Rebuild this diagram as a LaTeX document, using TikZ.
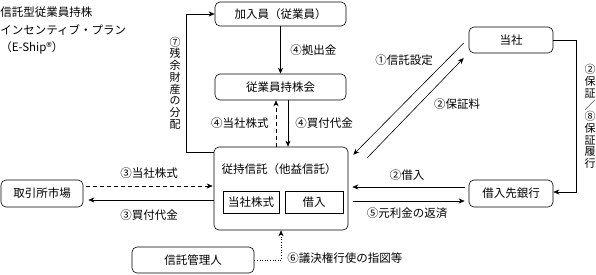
\documentclass[tikz,border=0pt]{standalone}
\usepackage{fontspec}
\setmainfont{Noto Sans CJK JP}
\usepackage{tikz}
\usetikzlibrary{arrows.meta,calc}

\begin{document}
\begin{tikzpicture}[x=1pt, y=-1pt, >={Stealth[length=6pt,width=5pt]}, line width=0.6pt,
    box/.style={draw, rounded corners=5pt, inner sep=0pt, font=\fontsize{11.5}{13}\selectfont},
    inbox/.style={draw, inner sep=0pt, minimum height=22, font=\fontsize{11.5}{13}\selectfont},
    lbl/.style={inner sep=0pt, font=\fontsize{11.5}{13}\selectfont},
    tate/.style={inner sep=0pt, align=center, font=\fontsize{11}{11.7}\selectfont}]
    \useasboundingbox (0,0) rectangle (596,274);

    % Title
    \node[lbl, anchor=west] (title1) at (0,12) {信託型従業員持株};
    \node[lbl, anchor=west] (title2) at (0,30) {インセンティブ・プラン};
    \node[lbl, anchor=west] (title3) at (0,48) {（E-Ship®）};

    % Boxes
    \node[box, minimum width=131, minimum height=24] (member) at (280.5,14) {加入員（従業員）};
    \node[box, minimum width=131, minimum height=26] (kumiai) at (280.5,87) {従業員持株会};
    \node[box, minimum width=84, minimum height=26] (company) at (511,40) {当社};
    \node[box, minimum width=82, minimum height=27] (market) at (42,193.5) {取引所市場};
    \node[box, minimum width=84, minimum height=27] (bank) at (511,193.5) {借入先銀行};
    \node[box, minimum width=122, minimum height=26] (admin) at (193,260) {信託管理人};

    % Trust with its two parts
    \node[box, minimum width=134, minimum height=83] (trust) at (281,188.5) {};
    \node[lbl] (trustname) at (279,169) {従持信託（他益信託）};
    \node[inbox, minimum width=56] (stock) at (251,202) {当社株式};
    \node[inbox, minimum width=58] (loan) at (314,202) {借入};

    % Members and association
    \draw[->] (member) -- (kumiai);
    \node[lbl, anchor=west] (lblcontrib) at (290,50) {④拠出金};
    \draw[->, dash pattern=on 4pt off 3pt] ([xshift=-5pt]trust.north) -- ([xshift=-4.5pt]kumiai.south);
    \draw[->] ([xshift=7.5pt]kumiai.south) -- ([xshift=7pt]trust.north);
    \node[lbl, anchor=east] (lblshares) at (269,123) {④当社株式};
    \node[lbl, anchor=west] (lblpay) at (295,123) {④買付代金};

    % Residual assets
    \draw[->] ([yshift=-6pt]trust.north west) -- ++(-27,0) |- (member.west);
    \node[tate] (lblresidual) at (175,83) {⑦\\残\\余\\財\\産\\の\\分\\配};

    % Market
    \draw[->, dash pattern=on 4pt off 3pt] ([yshift=7.5pt,xshift=3pt]market.east) -- ([yshift=2.5pt,xshift=-1pt]trust.west);
    \draw[->] ([yshift=-11.5pt]trust.west) -- ([yshift=-6.5pt,xshift=5pt]market.east);
    \node[lbl] (lblmktshares) at (149,173) {③当社株式};
    \node[lbl] (lblmktpay) at (149,215) {③買付代金};

    % Bank
    \draw[->] ([yshift=6.5pt,xshift=-4pt]bank.west) -- ([yshift=1.5pt,xshift=4pt]trust.east);
    \draw[->] ([yshift=-12.5pt,xshift=5pt]trust.east) -- ([yshift=-7.5pt,xshift=-4pt]bank.west);
    \node[lbl] (lblborrow) at (407,175) {②借入};
    \node[lbl] (lblrepay) at (407,213) {⑤元利金の返済};

    % Company and trust
    \draw[->] ($(company.west)+(-5,3)$) -- ($(trust.north east)+(5,8)$);
    \draw[->] ($(trust.north east)+(19,11)$) -- ($(company.west)+(-5,18)$);
    \node[lbl] (lblsetup) at (404,60) {①信託設定};
    \node[lbl] (lblfee) at (457,104) {②保証料};

    % Guarantee
    \draw[->] (company.east) -- ++(23,0) |- ([yshift=1.5pt]bank.east);
    \node[tate] (lblguarantee) at (590,116.5) {②\\保\\証\\／\\⑧\\保\\証\\履\\行};

    % Trust administrator
    \draw[->, dotted] (admin.east) -| (trust.south);
    \node[lbl, anchor=west] (lblvote) at (287,258) {⑥議決権行使の指図等};
\end{tikzpicture}
\end{document}
